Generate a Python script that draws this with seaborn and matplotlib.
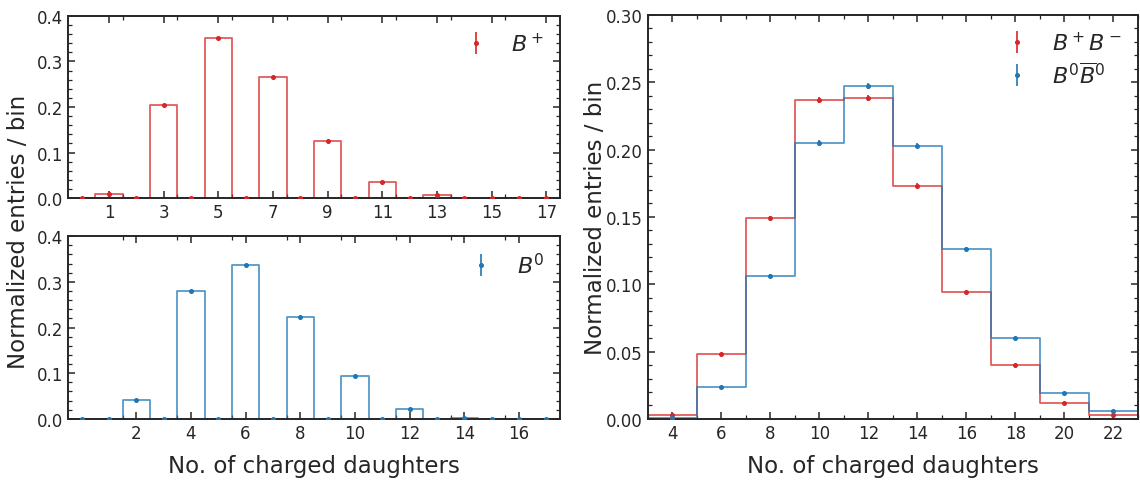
import numpy as np
import pandas as pd
import matplotlib
matplotlib.use("Agg")
import matplotlib.pyplot as plt
from matplotlib.ticker import MultipleLocator, FixedLocator
import seaborn as sns

# ---------------- data ----------------
# single B meson multiplicity (bins of width 1 centred on integers 0..17)
bp_centers = list(range(0, 18))
bp_values = [0.0, 0.010, 0.0, 0.205, 0.0, 0.352, 0.0, 0.265, 0.0, 0.126,
             0.0, 0.036, 0.0, 0.007, 0.0, 0.001, 0.0, 0.0002]
bp_errors = [0.0, 0.0008, 0.0, 0.0015, 0.0, 0.0018, 0.0, 0.0016, 0.0, 0.0011,
             0.0, 0.0006, 0.0, 0.0003, 0.0, 0.0001, 0.0, 0.0]

b0_centers = list(range(0, 18))
b0_values = [0.0, 0.0, 0.042, 0.0, 0.279, 0.0, 0.337, 0.0, 0.222, 0.0,
             0.094, 0.0, 0.022, 0.0, 0.003, 0.0, 0.0003, 0.0]
b0_errors = [0.0, 0.0, 0.0007, 0.0, 0.0016, 0.0, 0.0018, 0.0, 0.0015, 0.0,
             0.0010, 0.0, 0.0005, 0.0, 0.0002, 0.0, 0.0, 0.0]

# pair multiplicity (bins of width 2 centred on even numbers 4..22)
pair_centers = [4, 6, 8, 10, 12, 14, 16, 18, 20, 22]
bpbm_values = [0.003, 0.048, 0.149, 0.237, 0.238, 0.173, 0.094, 0.040, 0.012, 0.003]
bpbm_errors = [0.0003, 0.0010, 0.0018, 0.0022, 0.0022, 0.0018, 0.0013, 0.0008, 0.0005, 0.0002]
b0b0_values = [0.001, 0.024, 0.106, 0.205, 0.247, 0.203, 0.126, 0.060, 0.019, 0.006]
b0b0_errors = [0.0002, 0.0008, 0.0016, 0.0021, 0.0023, 0.0021, 0.0016, 0.0010, 0.0006, 0.0003]

label_bp = r"$B^+$"
label_b0 = r"$B^0$"
label_bpbm = r"$B^+B^-$"
label_b0b0 = r"$B^0\overline{B}^0$"
xlabel = "No. of charged daughters"
ylabel = "Normalized entries / bin"

RED = "#d62728"
BLUE = "#1f77b4"

# ---------------- style ----------------
sns.set_theme(style="ticks")
plt.rcParams["font.family"] = ["DejaVu Sans"]
plt.rcParams.update({
    "xtick.direction": "in", "ytick.direction": "in",
    "xtick.top": True, "ytick.right": True,
    "axes.linewidth": 1.4,
    "axes.edgecolor": "#262626",
    "xtick.labelsize": 12, "ytick.labelsize": 12,
})

fig = plt.figure(figsize=(11.40, 4.81), dpi=100)
ax_top = fig.add_axes([0.0596, 0.586, 0.4316, 0.379])
ax_bot = fig.add_axes([0.0596, 0.127, 0.4316, 0.380])
ax_r = fig.add_axes([0.5684, 0.127, 0.4296, 0.840])


def draw_hist(ax, centers, values, errors, width, color, label):
    centers = np.asarray(centers, dtype=float)
    edges = [float(c - width / 2.0) for c in centers] + [float(centers[-1] + width / 2.0)]
    df = pd.DataFrame({"x": centers, "w": np.asarray(values, dtype=float)})
    sns.histplot(data=df, x="x", weights="w", bins=edges, element="step",
                 fill=False, color=color, linewidth=1.3, alpha=0.75, ax=ax)
    ax.errorbar(centers, values, yerr=errors, fmt="o", ms=2.6, color=color,
                ecolor=color, elinewidth=1.2, capsize=0, label=label, zorder=5)


draw_hist(ax_top, bp_centers, bp_values, bp_errors, 1.0, RED, label_bp)
draw_hist(ax_bot, b0_centers, b0_values, b0_errors, 1.0, BLUE, label_b0)
draw_hist(ax_r, pair_centers, bpbm_values, bpbm_errors, 2.0, RED, label_bpbm)
draw_hist(ax_r, pair_centers, b0b0_values, b0b0_errors, 2.0, BLUE, label_b0b0)

# ---------------- axes formatting ----------------
for ax in (ax_top, ax_bot):
    ax.set_xlim(-0.5, 17.5)
    ax.set_ylim(0, 0.4)
    ax.yaxis.set_major_locator(MultipleLocator(0.1))
    ax.yaxis.set_minor_locator(MultipleLocator(0.02))
    ax.xaxis.set_minor_locator(FixedLocator(np.arange(1.5, 17.5, 2)))
    ax.set_ylabel("")
    ax.set_xlabel("")

ax_top.xaxis.set_major_locator(FixedLocator(np.arange(1, 18, 2)))
ax_bot.xaxis.set_major_locator(FixedLocator(np.arange(2, 17, 2)))

ax_r.set_xlim(3, 23)
ax_r.set_ylim(0, 0.30)
ax_r.xaxis.set_major_locator(MultipleLocator(2))
ax_r.xaxis.set_minor_locator(MultipleLocator(1))
ax_r.yaxis.set_major_locator(MultipleLocator(0.05))
ax_r.yaxis.set_minor_locator(MultipleLocator(0.01))
ax_r.yaxis.set_major_formatter(matplotlib.ticker.FormatStrFormatter("%.2f"))
ax_r.set_ylabel("")

for ax in (ax_top, ax_bot, ax_r):
    ax.tick_params(which="major", length=5, width=1.1, direction="in",
                   top=True, right=True, colors="#262626", labelcolor="#262626")
    ax.tick_params(which="minor", length=3, width=0.9, direction="in",
                   top=True, right=True, colors="#262626")
    for s in ax.spines.values():
        s.set_visible(True)
        s.set_linewidth(1.4)

ax_bot.set_xlabel(xlabel, fontsize=16.5, labelpad=9)
ax_r.set_xlabel(xlabel, fontsize=16.5, labelpad=9)
fig.text(0.016, 0.518, ylabel, rotation=90, va="center", ha="center", fontsize=16.5)
fig.text(0.522, 0.547, ylabel, rotation=90, va="center", ha="center", fontsize=16.5)

leg_kw = dict(frameon=False, fontsize=16, handlelength=1.2, handletextpad=1.0,
              borderaxespad=0.3, labelspacing=0.35)
ax_top.legend(loc="upper right", **leg_kw)
ax_bot.legend(loc="upper right", **leg_kw)
ax_r.legend(loc="upper right", **leg_kw)

fig.savefig("out.png", dpi=100)
